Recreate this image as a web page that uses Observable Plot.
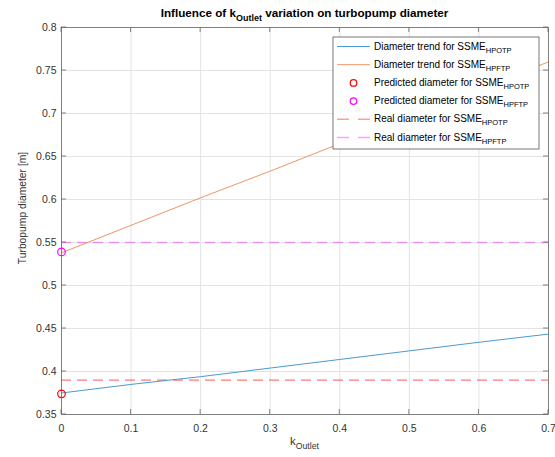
<!DOCTYPE html>
<html><head><meta charset="utf-8">
<script src="https://cdn.jsdelivr.net/npm/d3@7"></script>
<script src="https://cdn.jsdelivr.net/npm/@observablehq/plot@0.6"></script>
<style>body{margin:0;background:#fff;} svg{display:block;}</style>
</head><body><div id="chart"></div>
<script>
// ---- data ----
const kOutlet = [0, 0.1, 0.2, 0.3, 0.4, 0.5, 0.6, 0.7];
const trendHPOTP = [0.375, 0.385, 0.394, 0.404, 0.414, 0.424, 0.434, 0.4435];
const trendHPFTP = [0.538, 0.570, 0.602, 0.633, 0.665, 0.697, 0.729, 0.760];
const predictedK = [0];
const predictedHPOTP = [0.374];
const predictedHPFTP = [0.539];
const realHPOTP = [0.39];
const realHPFTP = [0.55];
const xTicks = [0, 0.1, 0.2, 0.3, 0.4, 0.5, 0.6, 0.7];
const yTicks = [0.35, 0.4, 0.45, 0.5, 0.55, 0.6, 0.65, 0.7, 0.75, 0.8];
const legendLabels = [
  ["Diameter trend for SSME", "HPOTP"],
  ["Diameter trend for SSME", "HPFTP"],
  ["Predicted diameter for SSME", "HPOTP"],
  ["Predicted diameter for SSME", "HPFTP"],
  ["Real diameter for SSME", "HPOTP"],
  ["Real diameter for SSME", "HPFTP"]
];
const titleParts = ["Influence of k", "Outlet", " variation on turbopump diameter"];
const xLabelParts = ["k", "Outlet"];
const yLabel = "Turbopump diameter [m]";

const colBlue = "#4a9ad4", colOrange = "#ee9468";
const fmt = d => String(+d.toFixed(2));
const tbl = arr => kOutlet.map((k, i) => ({k, d: arr[i]}));
const pts = arr => predictedK.map((k, i) => ({k, d: arr[i]}));

const FONT = "'Liberation Sans', Arial, Helvetica, sans-serif";
const plot = Plot.plot({
  width: 555, height: 457,
  marginLeft: 61, marginRight: 7, marginTop: 27, marginBottom: 43,
  style: {fontFamily: FONT, fontSize: "10.5px", color: "#333", background: "#fff"},
  x: {domain: [0, 0.7]},
  y: {domain: [0.35, 0.8]},
  marks: [
    Plot.gridX(xTicks, {stroke: "#e3e3e3", strokeOpacity: 1}),
    Plot.gridY(yTicks, {stroke: "#e3e3e3", strokeOpacity: 1}),
    Plot.axisX(xTicks, {tickSize: 0, tickPadding: 10, label: null, tickFormat: fmt}),
    Plot.axisY(yTicks, {tickSize: 0, tickPadding: 5, label: null, tickFormat: fmt}),
    Plot.ruleY(realHPOTP, {stroke: "#ff0000", strokeOpacity: 0.38, strokeWidth: 1.6, strokeDasharray: "10,6"}),
    Plot.ruleY(realHPFTP, {stroke: "#ff00ff", strokeOpacity: 0.38, strokeWidth: 1.6, strokeDasharray: "10,6"}),
    Plot.line(tbl(trendHPOTP), {x: "k", y: "d", stroke: colBlue, strokeWidth: 1}),
    Plot.line(tbl(trendHPFTP), {x: "k", y: "d", stroke: colOrange, strokeWidth: 1}),
    Plot.dot(pts(predictedHPOTP), {x: "k", y: "d", r: 3.8, stroke: "#ff0000", fill: "none", strokeWidth: 1.2}),
    Plot.dot(pts(predictedHPFTP), {x: "k", y: "d", r: 3.8, stroke: "#ff00ff", fill: "none", strokeWidth: 1.2}),
    Plot.frame({stroke: "#666", strokeWidth: 0.8})
  ]
});
document.getElementById("chart").appendChild(plot);

const svg = d3.select(plot);
const sx = plot.scale("x"), sy = plot.scale("y");
const X0 = sx.apply(0), X1 = sx.apply(0.7), Y0 = sy.apply(0.35), Y1 = sy.apply(0.8);
const tl = 5;
const tg = svg.append("g").attr("stroke", "#666").attr("stroke-width", 0.8);
xTicks.forEach(v => {
  const x = sx.apply(v);
  tg.append("line").attr("x1", x).attr("x2", x).attr("y1", Y0).attr("y2", Y0 - tl);
  tg.append("line").attr("x1", x).attr("x2", x).attr("y1", Y1).attr("y2", Y1 + tl);
});
yTicks.forEach(v => {
  const y = sy.apply(v);
  tg.append("line").attr("y1", y).attr("y2", y).attr("x1", X0).attr("x2", X0 + tl);
  tg.append("line").attr("y1", y).attr("y2", y).attr("x1", X1).attr("x2", X1 - tl);
});

// title
const cx = (X0 + X1) / 2;
const title = svg.append("text").attr("x", cx).attr("y", 17).attr("text-anchor", "middle")
  .attr("font-family", FONT).attr("font-weight", "bold").attr("font-size", 11.7).attr("fill", "#000");
title.append("tspan").text(titleParts[0]);
title.append("tspan").attr("dy", 4).attr("font-size", 9).text(titleParts[1]);
title.append("tspan").attr("dy", -4).text(titleParts[2]);

// x label
const xl = svg.append("text").attr("x", cx).attr("y", 445).attr("text-anchor", "middle")
  .attr("font-family", FONT).attr("font-size", 11.3).attr("fill", "#333");
xl.append("tspan").text(xLabelParts[0]);
xl.append("tspan").attr("dy", 3.5).attr("font-size", 8.7).text(xLabelParts[1]);

// y label
svg.append("text").attr("transform", `translate(26,208) rotate(-90)`)
  .attr("text-anchor", "middle").attr("font-family", FONT).attr("font-size", 10.3)
  .attr("fill", "#333").text(yLabel);

// legend
const lg = svg.append("g").attr("text-anchor", "start");
lg.append("rect").attr("x", 333).attr("y", 37).attr("width", 206).attr("height", 112)
  .attr("fill", "#fff").attr("stroke", "#555").attr("stroke-width", 0.8);
const legendStyles = [
  {type: "line", color: colBlue},
  {type: "line", color: colOrange},
  {type: "dot", color: "#ff0000"},
  {type: "dot", color: "#ff00ff"},
  {type: "dash", color: "#ff0000"},
  {type: "dash", color: "#ff00ff"}
];
legendLabels.forEach((lab, i) => {
  const y = 46.5 + i * 18.2;
  const s = legendStyles[i];
  if (s.type === "line") {
    lg.append("line").attr("x1", 337).attr("x2", 370).attr("y1", y).attr("y2", y)
      .attr("stroke", s.color).attr("stroke-width", 1);
  } else if (s.type === "dot") {
    lg.append("circle").attr("cx", 353.5).attr("cy", y).attr("r", 3.3)
      .attr("fill", "none").attr("stroke", s.color).attr("stroke-width", 1.2);
  } else {
    lg.append("line").attr("x1", 337).attr("x2", 370).attr("y1", y).attr("y2", y)
      .attr("stroke", s.color).attr("stroke-opacity", 0.38).attr("stroke-width", 1.6)
      .attr("stroke-dasharray", "12,9");
  }
  const t = lg.append("text").attr("x", 374).attr("y", y + 3).attr("font-family", FONT)
    .attr("font-size", 10).attr("fill", "#000").attr("text-anchor", "start");
  t.append("tspan").text(lab[0]);
  t.append("tspan").attr("dy", 3).attr("font-size", 7.5).text(lab[1]);
});
</script>
</body></html>
